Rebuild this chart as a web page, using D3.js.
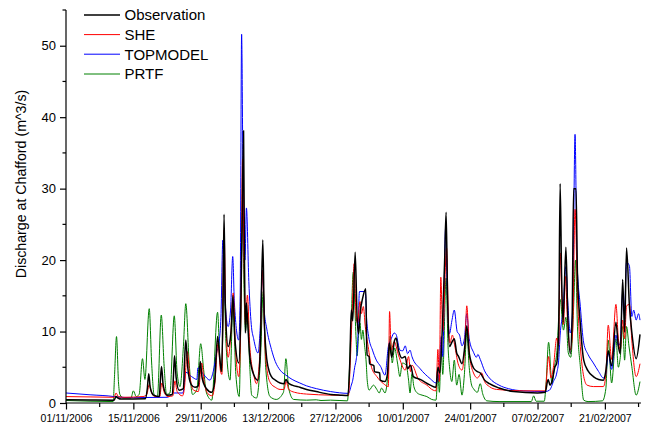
<!DOCTYPE html>
<html><head><meta charset="utf-8">
<script src="https://d3js.org/d3.v7.min.js"></script>
<style>
html,body{margin:0;padding:0;background:#fff;}
svg{display:block;font-family:Arial,"Liberation Sans",sans-serif;}
</style></head>
<body><svg id="chart" width="646" height="429"></svg>
<script>
// Day offsets counted from 01/11/2006 00:00, values in m^3/s
const startDate = Date.UTC(2006, 10, 1);
const seriesNames = ["Observation", "SHE", "TOPMODEL", "PRTF"];
const seriesColors = ["#000000", "#ff0000", "#0000ff", "#008000"];
const yTickValues = [0, 10, 20, 30, 40, 50];
const xTickDays = [0, 14, 28, 42, 56, 70, 84, 98, 112];

const observation = [[0,0.45],[5,0.42],[10,0.4],[10.4,0.9],[10.8,0.7],[11.5,0.55],[16.5,0.6],[16.9,2],[17.2,4.1],[17.5,2.2],[18.2,1.1],[19.4,0.9],[19.6,3],[19.85,5.1],[20.2,2.5],[21,1.1],[22.1,1.2],[22.35,4],[22.55,6.6],[22.9,3.5],[23.5,1.8],[24.4,2],[24.65,6],[24.9,8.8],[25.3,5],[26,2.6],[26.8,2.2],[27.5,2.4],[27.9,5.8],[28.3,3.5],[29.2,2.0],[30.3,1.5],[30.9,3],[31.5,9.3],[32,6],[32.3,4.4],[32.6,12],[32.85,26.4],[33.1,14],[33.7,7.9],[34.3,10],[34.7,15],[35.1,9],[35.9,5.6],[36.3,12],[36.6,25],[36.9,38.1],[37.1,20],[37.3,9.8],[37.5,14],[37.7,12],[38.2,6.5],[39.0,4],[39.9,3.2],[40.4,8],[40.9,22.8],[41.2,12],[41.6,7],[42.2,4.5],[42.7,3.7],[43.5,3.2],[44.5,2.8],[45.3,2.7],[45.7,3.3],[46.2,2.8],[47,2.5],[48.6,2.2],[50,1.9],[52,1.6],[55,1.2],[57,1.1],[58.6,1.05],[59.0,6],[59.3,13],[59.6,11.5],[60.1,21.1],[60.5,12],[60.8,9.7],[61.2,13],[61.6,14.5],[62.3,16.0],[62.5,8],[62.6,6.7],[63.0,6.5],[63.1,5.5],[64.0,5.2],[64.1,4.4],[65.2,4.2],[65.3,3.2],[66.3,3],[66.8,4],[67.2,8.4],[67.7,6.4],[68.3,8.8],[68.6,9.1],[69.1,7.4],[69.8,6.3],[70.5,6.5],[71.0,4.8],[71.6,5.3],[72.2,3.7],[73.6,3.3],[75.7,2.5],[76.9,2.2],[77.3,5],[77.7,4.2],[78.3,12],[78.7,20],[79.0,26.7],[79.3,15],[79.7,7.9],[80.2,8.5],[80.7,9.0],[81.2,7],[81.6,6.5],[82.3,5.5],[82.9,8],[83.3,10.8],[83.8,7],[84.7,4.9],[85.5,4.4],[86.1,4.2],[87,3.2],[88,2.7],[90,2.1],[93,1.6],[98,1.4],[99.6,1.5],[100.2,3.3],[100.6,2.5],[101,3],[101.6,5],[102,5.6],[102.4,10],[102.7,30.7],[103.0,18],[103.3,11.3],[103.9,21.8],[104.3,12],[104.8,6.9],[105.2,12],[105.5,30],[106.0,30],[106.3,18],[106.9,11],[107.6,6.0],[108.5,4.5],[109.6,3.7],[110.7,3.3],[111.7,3.2],[112.2,4.5],[112.7,7.3],[113.4,5.2],[114.3,11.3],[114.8,8],[115.2,6.9],[115.7,17.3],[116.1,9.9],[116.5,21.7],[117.1,13.6],[117.6,9.9],[118.5,6.2],[119.3,9.6]];

const she = [[0,0.9],[5,0.85],[10,0.8],[10.4,1.4],[10.9,0.9],[12,0.8],[16,0.9],[16.8,1.2],[17.3,2.6],[17.8,1.4],[18.5,0.9],[19.5,0.9],[19.9,2.8],[20.4,1.5],[21.2,0.9],[22.2,1.0],[22.65,3.1],[23.1,1.6],[24.2,1.0],[24.6,2],[25.2,7.2],[25.7,4],[26.5,1.8],[27.5,1.6],[28.2,5.6],[28.7,3],[29.5,1.3],[30.4,1.0],[30.9,2.5],[31.6,8.4],[32.1,4.5],[32.4,4],[32.85,24.2],[33.2,12],[33.7,6.4],[34.2,9],[34.75,15.4],[35.2,8],[35.9,3.7],[36.3,10],[36.7,34.1],[37.0,20],[37.3,11],[37.7,15.1],[38.2,8],[39.0,4],[39.6,2.7],[40.3,7],[40.9,18.6],[41.3,9],[41.8,4.5],[42.5,2.8],[43.5,2.2],[44.5,1.9],[45.3,1.9],[45.75,3.0],[46.3,1.9],[47.5,1.5],[50,1.25],[55,1.1],[58.7,1.05],[59.1,6],[59.5,13],[59.9,19.5],[60.3,12],[60.6,11.2],[61.1,14.2],[61.4,12.5],[61.8,13.5],[62.2,10.7],[62.8,7.9],[63.5,5],[64.6,3.7],[66,2.7],[67.0,2.3],[67.25,12.8],[67.6,7.4],[68.2,8.6],[69.1,6.7],[70.5,4.6],[71.2,6.5],[71.6,4.4],[71.9,5.3],[73.2,3.4],[75,2.5],[76.3,1.8],[76.9,1.7],[77.3,7.5],[77.6,3],[77.9,17.6],[78.3,10],[79.1,21.7],[79.5,11],[79.8,8.4],[80.3,9.5],[80.8,8],[81.5,5.5],[82.3,4.6],[82.9,8],[83.3,13.6],[83.9,6.5],[84.7,4.2],[85.5,3.5],[86.4,4.2],[87,3],[88,2.3],[89.5,1.9],[95,1.7],[99.6,1.7],[100.3,6.5],[100.8,3.5],[101.3,5],[102,9.1],[102.4,8],[102.7,21],[103.1,14],[103.4,11],[103.8,17.7],[104.2,12],[104.8,7.4],[105.3,10],[105.8,27.1],[106.3,15],[106.9,7.9],[107.6,3.7],[108.3,2.5],[109.6,2.3],[111.7,2.3],[112.2,4],[112.7,10.9],[113.4,6.1],[114.3,13.8],[114.8,9],[115.2,7.4],[115.7,11.6],[116.1,9],[116.5,13.6],[117.1,13.8],[117.6,8.8],[118.5,3.7],[119.3,5.5]];

const topmodel = [[0,1.4],[5,1.15],[10,0.9],[10.5,0.85],[14,0.75],[21,0.8],[22,1.2],[22.3,1.4],[24.3,1.4],[24.9,4.3],[26.1,3.7],[27.2,3.3],[27.4,4.9],[28.6,4.0],[29.9,3.2],[30.6,4.4],[31.3,7],[31.9,9],[32.2,12],[32.6,22.8],[33.0,15],[33.7,10.7],[34.2,13],[34.65,20.5],[35.0,14],[35.9,8.8],[36.2,15],[36.5,51.6],[36.8,30],[37.2,20],[37.5,27.3],[38,17],[38.5,11],[39,9],[39.9,7.0],[40.4,11],[40.8,18.6],[41.2,13],[41.7,10.5],[42.7,7.5],[43.5,5.8],[44.5,4.6],[45.7,3.9],[47,3.3],[48.6,2.8],[50,2.4],[52.1,2.0],[55,1.6],[58.7,1.35],[59.3,2.5],[59.6,3.2],[60,5],[60.3,6.0],[60.6,8],[61.0,15.6],[62.2,15.6],[62.5,11.6],[62.9,9.3],[63.7,7.4],[64.5,6.0],[65.4,5.1],[66.3,3.9],[67.0,7.9],[67.6,9.0],[68.2,9.8],[68.6,9.6],[69.4,7.4],[70.0,7.3],[70.5,8.0],[71.0,6.9],[71.5,7.4],[71.9,6.5],[73.6,4.8],[75.7,3.4],[76.9,2.8],[77.5,4],[78.0,9.3],[78.3,6.5],[78.9,24.5],[79.3,14],[79.7,9.7],[80.2,11.5],[80.7,13.0],[81.3,10],[81.8,9.5],[82.3,8.0],[82.8,9],[83.3,12.5],[83.8,9],[84.7,7.1],[85.3,6.4],[85.6,6.8],[86.1,6.1],[87,4.5],[88,3.5],[90,2.5],[92,2.0],[95,1.7],[99.6,1.6],[100.5,1.8],[101.3,3],[102,4.2],[102.4,6],[102.7,9.5],[103.3,13],[103.9,19.1],[104.3,14],[104.8,9.8],[105.3,13],[105.8,37.6],[106.2,20],[106.9,13.5],[107.6,8.4],[108.5,6.8],[109.6,5.6],[110.7,4.4],[111.7,3.5],[112.2,4],[112.7,7.0],[113.4,4.7],[114.3,9.5],[114.8,8],[115.2,8.5],[115.7,15.4],[116.1,13],[116.5,19.7],[117.1,19.2],[117.6,12.1],[118.0,13],[118.5,11.6],[119.0,12.5],[119.3,11.6]];

const prtf = [[0,0.35],[5,0.25],[9.8,0.2],[10.1,4],[10.5,9.3],[10.9,3],[11.2,1.2],[11.9,0.7],[13.5,0.7],[14,1.7],[14.6,0.9],[15.2,1.2],[15.9,6.2],[16.4,3.3],[17.3,13.2],[17.8,5.6],[18.3,1.2],[19.0,0.9],[19.8,12.3],[20.4,5.1],[20.9,1.2],[21.6,1.4],[22.5,12.2],[23.1,4.2],[23.7,2.3],[24.4,7.9],[24.9,13.9],[25.6,5.6],[26.3,1.2],[27.2,1.9],[28.0,8.3],[28.6,4.7],[29.2,1.4],[30.3,0.4],[31.5,12.7],[32.0,6],[32.4,4.4],[32.8,21],[33.2,9],[34.1,3.2],[34.7,14],[35.3,4],[36.0,0.9],[36.7,26.1],[37.0,16],[37.3,10],[37.7,12.6],[38.2,5],[38.6,1.1],[39.6,0.7],[40.4,6],[41.0,15.6],[41.5,5],[42.4,0.9],[43.7,0.5],[45.2,1.5],[45.7,6.2],[46.3,2],[47.3,0.5],[50,0.4],[52,0.45],[53,0.35],[55,0.4],[58.5,0.3],[58.8,3],[59.3,12],[59.7,18.3],[60.3,8.9],[60.5,6.6],[60.8,9.4],[61.1,11.2],[61.4,8.9],[61.7,10.2],[62.0,8.4],[62.4,5.6],[62.6,3.2],[63.0,1.8],[63.9,2.5],[64.6,1.9],[65.1,1.4],[65.6,2.1],[66.3,1.4],[66.9,4],[67.4,9.4],[67.8,5.6],[68.3,7.7],[68.9,5.6],[69.4,3.7],[69.9,5.6],[70.7,5.3],[71.2,3.2],[71.5,1.4],[71.9,4.1],[72.3,2.3],[73,1.4],[74,1.1],[75,0.9],[76,0.5],[76.9,0.4],[77.3,4],[77.6,1.5],[78.0,8],[78.3,4],[79.0,17.5],[79.4,8],[79.7,5.1],[80.2,3],[80.7,6.0],[81.2,2.5],[81.7,4],[82.3,1.1],[82.8,4],[83.3,9.9],[83.8,5],[84.3,2.5],[84.7,2.0],[85.5,1.5],[86.1,2.7],[86.6,1.3],[87.5,0.3],[90,0.2],[96.7,0.2],[97.2,1.0],[97.7,0.25],[99.4,0.25],[99.8,3],[100.3,8.5],[101,2.7],[101.5,5],[102,7],[102.7,14.5],[103.4,10.2],[103.9,12],[104.4,7],[104.9,6.4],[105.5,13.4],[105.9,20],[106.3,10.7],[106.9,5.1],[107.6,0.4],[108.5,0.2],[111.5,0.3],[112.2,2],[112.7,8.8],[113.4,2.8],[114.3,9.0],[114.8,5],[115.2,6.4],[115.7,10.7],[116.1,6],[116.5,10.7],[117,8],[117.6,5.1],[118.5,1.1],[119.3,3]];

const allSeries = [observation, she, topmodel, prtf];
const seriesWidths = [1.5, 1, 1, 1];

const DAY = 86400000;
const toDate = d => new Date(startDate + d * DAY);

const svg = d3.select("#chart");
const mLeft = 66, mRight = 640, mTop = 10, mBottom = 403;

const x = d3.scaleUtc().domain([toDate(0), toDate(119.3)]).range([mLeft, mRight]);
const y = d3.scaleLinear().domain([0, 55]).range([mBottom, mTop]);

svg.append("clipPath").attr("id", "clip").append("rect")
  .attr("x", mLeft).attr("y", mTop - 5).attr("width", mRight - mLeft + 1).attr("height", mBottom - mTop + 5);
const plot = svg.append("g");

const line = d3.line().x(p => x(toDate(p[0]))).y(p => y(p[1])).curve(d3.curveMonotoneX);

[3, 2, 1, 0].forEach(i => {
  plot.append("path").datum(allSeries[i])
    .attr("clip-path", "url(#clip)")
    .attr("fill", "none").attr("stroke", seriesColors[i])
    .attr("stroke-width", seriesWidths[i]).attr("stroke-linejoin", "round")
    .attr("d", line);
});

// Y axis
const yAxis = d3.axisLeft(y).tickValues(yTickValues).tickSize(6).tickPadding(4)
  .tickFormat(d3.format("d"));
const gy = svg.append("g").attr("transform", `translate(${mLeft},0)`).call(yAxis);
gy.select(".domain").attr("d", `M0,${mBottom}V${mTop}`).attr("stroke", "#000").attr("stroke-width", 1.2);
gy.selectAll(".tick line").attr("stroke", "#000").attr("stroke-width", 1.2);
gy.selectAll(".tick text").attr("font-size", 13).attr("fill", "#000").attr("font-family", "Arial, 'Liberation Sans', sans-serif");
const yMinor = d3.range(5, 56, 10);
svg.append("g").selectAll("line").data(yMinor).join("line")
  .attr("x1", mLeft - 3.5).attr("x2", mLeft).attr("y1", d => y(d)).attr("y2", d => y(d))
  .attr("stroke", "#000").attr("stroke-width", 1.2);

// X axis
const xAxis = d3.axisBottom(x).tickValues(xTickDays.map(toDate)).tickSize(6.5).tickPadding(5)
  .tickFormat(d3.utcFormat("%d/%m/%Y"));
const gx = svg.append("g").attr("transform", `translate(0,${mBottom})`).call(xAxis);
gx.select(".domain").attr("d", `M${mLeft},0H${mRight + 1}`).attr("stroke", "#000").attr("stroke-width", 1.2);
gx.selectAll(".tick line").attr("stroke", "#000").attr("stroke-width", 1.2);
gx.selectAll(".tick text").attr("font-size", 10.5).attr("fill", "#000").attr("font-family", "Arial, 'Liberation Sans', sans-serif");
const xMinor = d3.range(7, 120, 14);
svg.append("g").selectAll("line").data(xMinor).join("line")
  .attr("x1", d => x(toDate(d))).attr("x2", d => x(toDate(d)))
  .attr("y1", mBottom).attr("y2", mBottom + 4)
  .attr("stroke", "#000").attr("stroke-width", 1.2);

// Y label
svg.append("text").attr("transform", "translate(26,184) rotate(-90)")
  .attr("text-anchor", "middle").attr("font-size", 14.2).attr("fill", "#000")
  .text("Discharge at Chafford (m^3/s)");

// Legend
const legendY = [15, 34.6, 54.2, 74];
const lg = svg.append("g");
seriesNames.forEach((name, i) => {
  lg.append("line").attr("x1", 84).attr("x2", 120).attr("y1", legendY[i]).attr("y2", legendY[i])
    .attr("stroke", seriesColors[i]).attr("stroke-width", i === 0 ? 1.5 : 1);
  lg.append("text").attr("x", 124.5).attr("y", legendY[i] + 5.4)
    .attr("font-size", 15).attr("fill", "#000").text(name);
});
</script>
</body></html>
